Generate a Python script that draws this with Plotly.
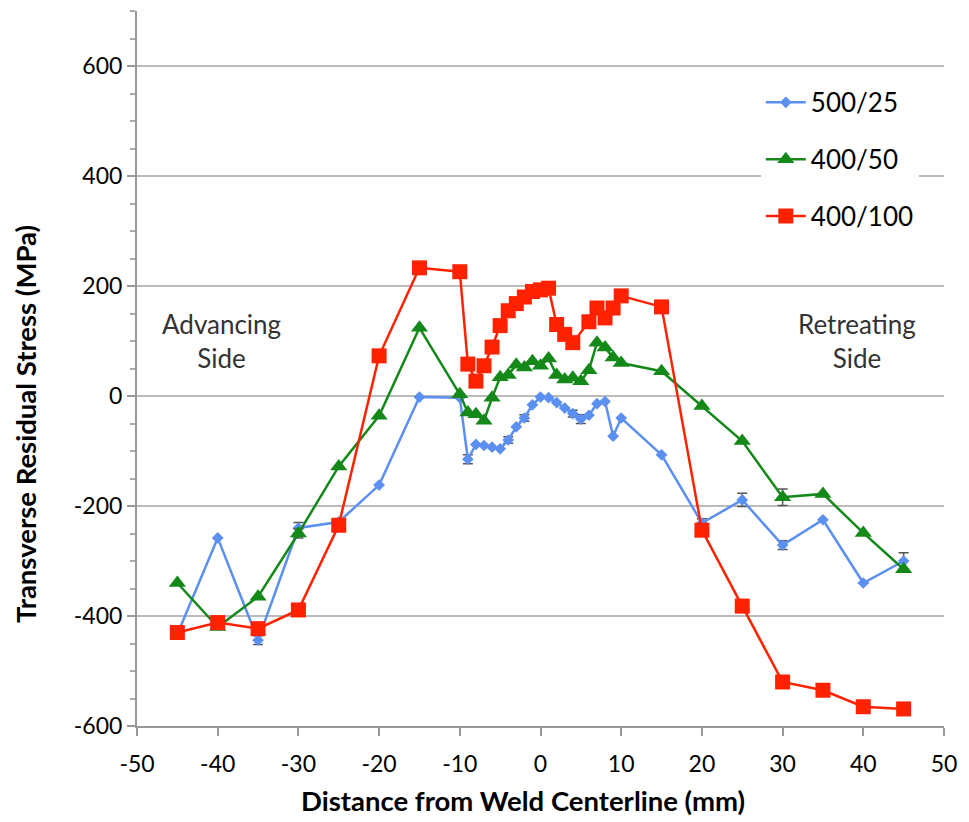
import plotly.graph_objects as go

# ---- data ----
x_500_25 = [-45, -40, -35, -30, -25, -20, -15, -10, -9, -8, -7, -6, -5, -4, -3, -2, -1, 0, 1, 2, 3, 4, 5, 6, 7, 8, 9, 10, 15, 20, 25, 30, 35, 40, 45]
y_500_25 = [-433, -258, -444, -240, -229, -162, -2, -3, -115, -88, -90, -93, -96, -80, -56, -40, -16, -2, -3, -12, -22, -32, -42, -35, -14, -10, -73, -40, -107, -231, -189, -271, -225, -340, -300]
e_500_25 = [8, 0, 8, 10, 0, 0, 0, 0, 8, 0, 0, 0, 0, 6, 0, 6, 0, 0, 0, 0, 0, 6, 8, 0, 0, 0, 0, 0, 0, 8, 12, 8, 0, 0, 15]

x_400_50 = [-45, -40, -35, -30, -25, -20, -15, -10, -9, -8, -7, -6, -5, -4, -3, -2, -1, 0, 1, 2, 3, 4, 5, 6, 7, 8, 9, 10, 15, 20, 25, 30, 35, 40, 45]
y_400_50 = [-340, -420, -365, -250, -128, -36, 124, 3, -30, -33, -45, -3, 34, 38, 57, 52, 63, 55, 68, 38, 30, 33, 27, 47, 97, 88, 70, 60, 45, -18, -82, -184, -178, -249, -315]
e_400_50 = [0, 0, 0, 8, 0, 0, 0, 0, 0, 0, 0, 0, 0, 0, 0, 0, 0, 0, 0, 0, 0, 0, 0, 0, 0, 0, 0, 0, 0, 0, 0, 15, 0, 0, 0]

x_400_100 = [-45, -40, -35, -30, -25, -20, -15, -10, -9, -8, -7, -6, -5, -4, -3, -2, -1, 0, 1, 2, 3, 4, 6, 7, 8, 9, 10, 15, 20, 25, 30, 35, 40, 45]
y_400_100 = [-430, -412, -423, -389, -235, 73, 233, 226, 58, 27, 55, 89, 128, 155, 168, 180, 190, 193, 196, 130, 112, 97, 135, 160, 142, 160, 182, 162, -244, -382, -520, -535, -565, -569]
e_400_100 = [0, 0, 0, 0, 0, 0, 0, 0, 8, 0, 0, 0, 0, 0, 0, 0, 0, 0, 0, 0, 0, 8, 0, 0, 0, 8, 10, 0, 8, 0, 0, 0, 0, 0]

x_ticks = [-50, -40, -30, -20, -10, 0, 10, 20, 30, 40, 50]
y_ticks = [-600, -400, -200, 0, 200, 400, 600]

x_title = "Distance from Weld Centerline (mm)"
y_title = "Transverse Residual Stress (MPa)"

FONT = "Lato, 'Open Sans', sans-serif"
TICKSIZE = 23
TITLESIZE = 27.5


def err(arr):
    return dict(type="data", array=arr, visible=True, color="#555555", thickness=1.5, width=5)


fig = go.Figure()
fig.add_trace(go.Scatter(
    x=x_500_25, y=y_500_25, name="500/25", mode="lines+markers",
    line=dict(color="#5B8FF0", width=2.5),
    marker=dict(symbol="diamond", size=9, color="#5B8FF0"),
    error_y=err(e_500_25), legendgroup="a"))
fig.add_trace(go.Scatter(
    x=x_400_50, y=y_400_50, name="400/50", mode="lines+markers",
    line=dict(color="#14891A", width=2.5),
    marker=dict(symbol="triangle-up", size=15, color="#14891A"),
    error_y=err(e_400_50), legendgroup="b"))
fig.add_trace(go.Scatter(
    x=x_400_100, y=y_400_100, name="400/100", mode="lines+markers",
    line=dict(color="#FF2200", width=2.5),
    marker=dict(symbol="square", size=15, color="#FF2200"),
    error_y=err(e_400_100), legendgroup="c"))

fig.add_annotation(x=-39.5, y=100, xref="x", yref="y", text="Advancing<br>Side",
                   showarrow=False, font=dict(family=FONT, size=26, color="#333333"), align="center")
fig.add_annotation(x=39.2, y=100, xref="x", yref="y", text="Retreating<br>Side",
                   showarrow=False, font=dict(family=FONT, size=26, color="#333333"), align="center")

# axis titles
fig.add_annotation(x=0.478, y=-0.1035, xref="paper", yref="paper", text="<b>" + x_title + "</b>",
                   showarrow=False, xanchor="center", yanchor="middle",
                   font=dict(family=FONT, size=TITLESIZE, color="black"))
fig.add_annotation(x=-0.138, y=0.422, xref="paper", yref="paper", text="<b>" + y_title + "</b>",
                   showarrow=False, textangle=-90, xanchor="center", yanchor="middle",
                   font=dict(family=FONT, size=TITLESIZE, color="black"))

fig.update_layout(
    width=969, height=822,
    margin=dict(l=137, r=25, t=11, b=96),
    paper_bgcolor="white", plot_bgcolor="white",
    font=dict(family=FONT, size=TICKSIZE, color="black"),
    showlegend=True,
    legend=dict(x=0.773, y=0.905, xanchor="left", yanchor="top",
                bgcolor="white", font=dict(family=FONT, size=26, color="black"),
                tracegroupgap=20, traceorder="grouped", itemwidth=40),
    xaxis=dict(range=[-50, 50], tickvals=x_ticks, ticktext=[str(v) for v in x_ticks],
               showgrid=False, zeroline=False,
               showline=True, linecolor="#999999", linewidth=2,
               ticks="outside", ticklen=8, tickcolor="#999999", tickwidth=1.5,
               ticklabelstandoff=8,
               tickfont=dict(family=FONT, size=TICKSIZE)),
    yaxis=dict(range=[-600, 700], tickvals=y_ticks, ticktext=[str(v) for v in y_ticks],
               showgrid=True, gridcolor="#BBBBBB", gridwidth=2,
               zeroline=False, showline=True, linecolor="#999999", linewidth=2,
               ticks="outside", ticklen=8, tickcolor="#999999", tickwidth=1.5,
               tickfont=dict(family=FONT, size=TICKSIZE),
               minor=dict(dtick=50, ticks="outside", ticklen=5, tickcolor="#AAAAAA", showgrid=False)),
)

fig.write_html("out.html")
